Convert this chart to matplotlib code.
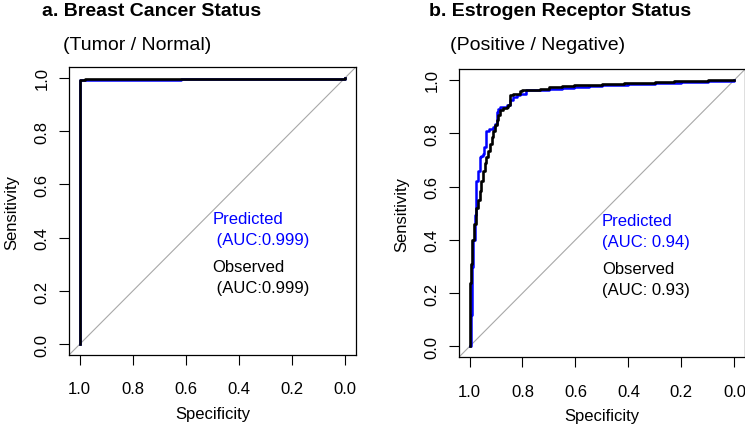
import matplotlib
matplotlib.use("Agg")
import matplotlib.pyplot as plt

plt.rcParams['font.family'] = ['Liberation Sans', 'DejaVu Sans']

# panel a: breast cancer status (tumor / normal)
spec_a_pred = [1.0, 1.0, 0.62, 0.0]
sens_a_pred = [0.0, 0.99, 0.995, 1.0]
spec_a_obs = [1.0, 1.0, 0.98, 0.0]
sens_a_obs = [0.0, 0.99, 0.997, 1.0]

# panel b: estrogen receptor status (positive / negative)
spec_b_pred = [1.0, 0.996, 0.992, 0.99, 0.985, 0.981, 0.977, 0.975, 0.968, 0.962,
               0.955, 0.949, 0.945, 0.937, 0.937, 0.925, 0.911, 0.905, 0.898, 0.892,
               0.886, 0.873, 0.86, 0.848, 0.835, 0.822, 0.81, 0.785, 0.76, 0.70,
               0.65, 0.607, 0.55, 0.50, 0.40, 0.30, 0.20, 0.10, 0.0]
sens_b_pred = [0.0, 0.12, 0.19, 0.30, 0.40, 0.495, 0.55, 0.62, 0.66, 0.71,
               0.715, 0.722, 0.75, 0.78, 0.81, 0.815, 0.823, 0.835, 0.879, 0.892,
               0.898, 0.898, 0.905, 0.923, 0.935, 0.942, 0.948, 0.961, 0.963, 0.966,
               0.97, 0.974, 0.978, 0.982, 0.986, 0.99, 0.994, 0.997, 1.0]
spec_b_obs = [1.0, 1.0, 0.997, 0.997, 0.993, 0.99, 0.984, 0.975, 0.968, 0.962,
              0.955, 0.949, 0.943, 0.937, 0.93, 0.924, 0.917, 0.911, 0.905, 0.898,
              0.892, 0.886, 0.873, 0.86, 0.855, 0.848, 0.848, 0.835, 0.81, 0.803,
              0.77, 0.734, 0.70, 0.65, 0.607, 0.50, 0.417, 0.30, 0.228, 0.10, 0.0]
sens_b_obs = [0.0, 0.12, 0.13, 0.24, 0.31, 0.40, 0.458, 0.52, 0.55, 0.584,
              0.62, 0.66, 0.69, 0.71, 0.735, 0.76, 0.785, 0.81, 0.83, 0.848,
              0.87, 0.886, 0.895, 0.898, 0.905, 0.923, 0.942, 0.948, 0.958, 0.961,
              0.964, 0.967, 0.972, 0.976, 0.98, 0.985, 0.989, 0.993, 0.996, 0.998, 1.0]

ticks = [1.0, 0.8, 0.6, 0.4, 0.2, 0.0]
tick_labels = ["1.0", "0.8", "0.6", "0.4", "0.2", "0.0"]

titles = ["a. Breast Cancer Status", "b. Estrogen Receptor Status"]
subtitles = ["(Tumor / Normal)", "(Positive / Negative)"]
pred_labels = [" (AUC:0.999)", "(AUC: 0.94)"]
obs_labels = [" (AUC:0.999)", "(AUC: 0.93)"]

fig = plt.figure(figsize=(7.45, 4.31), dpi=100)
ax_a = fig.add_axes([0.0926, 0.174, 0.385, 0.668])
ax_b = fig.add_axes([0.616, 0.169, 0.384, 0.668])

panels = [
    (ax_a, spec_a_pred, sens_a_pred, spec_a_obs, sens_a_obs),
    (ax_b, spec_b_pred, sens_b_pred, spec_b_obs, sens_b_obs),
]

for i, (ax, sp, sn, so, sno) in enumerate(panels):
    ax.axline((1, 0), (0, 1), color="#a8a8a8", lw=0.8, zorder=1)
    ax.plot(sp, sn, color="#0000ff", lw=1.8, drawstyle="steps-post", zorder=2)
    ax.plot(so, sno, color="black", lw=1.9, drawstyle="steps-post", zorder=3)
    ax.set_xlim(1.04, -0.04)
    ax.set_ylim(-0.04, 1.04)
    ax.set_xticks(ticks)
    ax.set_xticklabels(tick_labels)
    ax.set_yticks(ticks)
    ax.set_yticklabels(tick_labels, rotation=90, va="center")
    ax.tick_params(direction="out", length=7, width=0.8, labelsize=12)
    ax.tick_params(axis="x", pad=12)
    ax.tick_params(axis="y", pad=7)
    for s in ax.spines.values():
        s.set_linewidth(0.9)
    ax.set_xlabel("Specificity", fontsize=12, labelpad=7)
    ax.set_ylabel("Sensitivity", fontsize=12, labelpad=11)

    ax.text(0.5, 0.473, "Predicted", color="#0000ff", fontsize=12, ha="left", va="center")
    ax.text(0.5, 0.393, pred_labels[i], color="#0000ff", fontsize=12, ha="left", va="center")
    ax.text(0.5, 0.293, "Observed", color="black", fontsize=12, ha="left", va="center")
    ax.text(0.5, 0.214, obs_labels[i], color="black", fontsize=12, ha="left", va="center")

fig.text(0.056, 0.963, titles[0], fontsize=14, fontweight="bold", ha="left", va="baseline")
fig.text(0.0846, 0.884, subtitles[0], fontsize=14, ha="left", va="baseline")
fig.text(0.576, 0.963, titles[1], fontsize=14, fontweight="bold", ha="left", va="baseline")
fig.text(0.604, 0.884, subtitles[1], fontsize=14, ha="left", va="baseline")

fig.savefig("out.png", dpi=100)
